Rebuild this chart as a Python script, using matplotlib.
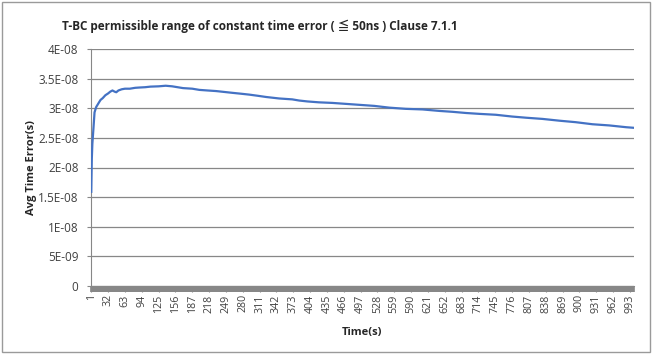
import numpy as np
import matplotlib
matplotlib.use('Agg')
import matplotlib.pyplot as plt
from matplotlib.patches import Rectangle

plt.rcParams['font.family'] = ['Open Sans', 'Noto Sans CJK SC', 'DejaVu Sans']

# values (time in s, avg time error in s)
time_s = [1, 2, 3, 5, 7, 10, 14, 18, 22, 27, 32, 36, 40, 44, 47, 51, 57, 63,
          72, 82, 90, 100, 110, 125, 138, 150, 160, 170, 187, 200, 215, 231,
          246, 261, 277, 292, 308, 323, 347, 371, 384, 399, 420, 445, 468,
          491, 522, 550, 580, 611, 642, 666, 691, 716, 746, 776, 802, 832,
          863, 893, 924, 955, 986, 1000]
avg_te_e8 = [1.59, 2.15, 2.40, 2.66, 2.93, 3.02, 3.08, 3.14, 3.17, 3.22, 3.25,
             3.28, 3.30, 3.28, 3.27, 3.30, 3.32, 3.33, 3.33, 3.345, 3.35,
             3.355, 3.365, 3.37, 3.38, 3.37, 3.355, 3.34, 3.33, 3.31, 3.30,
             3.29, 3.275, 3.26, 3.245, 3.23, 3.21, 3.19, 3.165, 3.15, 3.13,
             3.115, 3.10, 3.09, 3.075, 3.06, 3.04, 3.01, 2.99, 2.98, 2.955,
             2.94, 2.92, 2.905, 2.89, 2.86, 2.84, 2.82, 2.79, 2.765, 2.73,
             2.71, 2.68, 2.67]
n_points = 1000
x_ticks = list(range(1, 1000, 31))
y_ticks = [0, 5e-9, 1e-8, 1.5e-8, 2e-8, 2.5e-8, 3e-8, 3.5e-8, 4e-8]
y_tick_labels = ['0', '5E-09', '1E-08', '1.5E-08', '2E-08', '2.5E-08',
                 '3E-08', '3.5E-08', '4E-08']

grey = '#878787'
avg_te = np.array(avg_te_e8) * 1e-8

fig = plt.figure(figsize=(6.52, 3.54), dpi=100)
fig.patches.append(Rectangle((2 / 652, 2 / 354), 648 / 652, 350 / 354,
                             transform=fig.transFigure, fill=False,
                             edgecolor='#9a9a9a', linewidth=1.0))
ax = fig.add_axes([91 / 652, 1 - 286 / 354, 543 / 652, 237 / 354])

ax.plot(time_s, avg_te, color='#4472C4', linewidth=1.6, zorder=3)

ax.set_xlim(0.5, n_points + 0.5)
ax.set_ylim(0, 4e-8)
ax.set_yticks(y_ticks)
ax.set_yticklabels(y_tick_labels)
ax.set_xticks(x_ticks)
ax.set_xticklabels([str(v) for v in x_ticks], rotation=90)
ax.set_xticks(np.arange(0.5, n_points + 1, 1.0), minor=True)

ax.yaxis.grid(True, color=grey, linewidth=0.9)
ax.set_axisbelow(True)
for s in ['top', 'right']:
    ax.spines[s].set_visible(False)
ax.spines['left'].set_color(grey)
ax.spines['bottom'].set_color(grey)
ax.tick_params(axis='y', length=3, color=grey, labelsize=8.5, pad=6,
               labelcolor='#404040')
ax.tick_params(axis='x', which='major', length=4, color=grey, labelsize=7.7,
               pad=2, labelcolor='#404040')
ax.tick_params(axis='x', which='minor', length=4, width=1.2, color=grey)

ax.set_xlabel('Time(s)', fontsize=8, fontweight='bold', labelpad=10,
              color='#262626')
ax.set_ylabel('Avg Time Error(s)', fontsize=8, fontweight='bold',
              labelpad=1, color='#262626')
fig.text(260 / 652, 1 - 26 / 354,
         'T-BC permissible range of constant time error ( \u2266 50ns ) Clause 7.1.1',
         ha='center', va='center', fontsize=8.5, fontweight='bold',
         color='#262626')

fig.savefig('out.png', dpi=100)
